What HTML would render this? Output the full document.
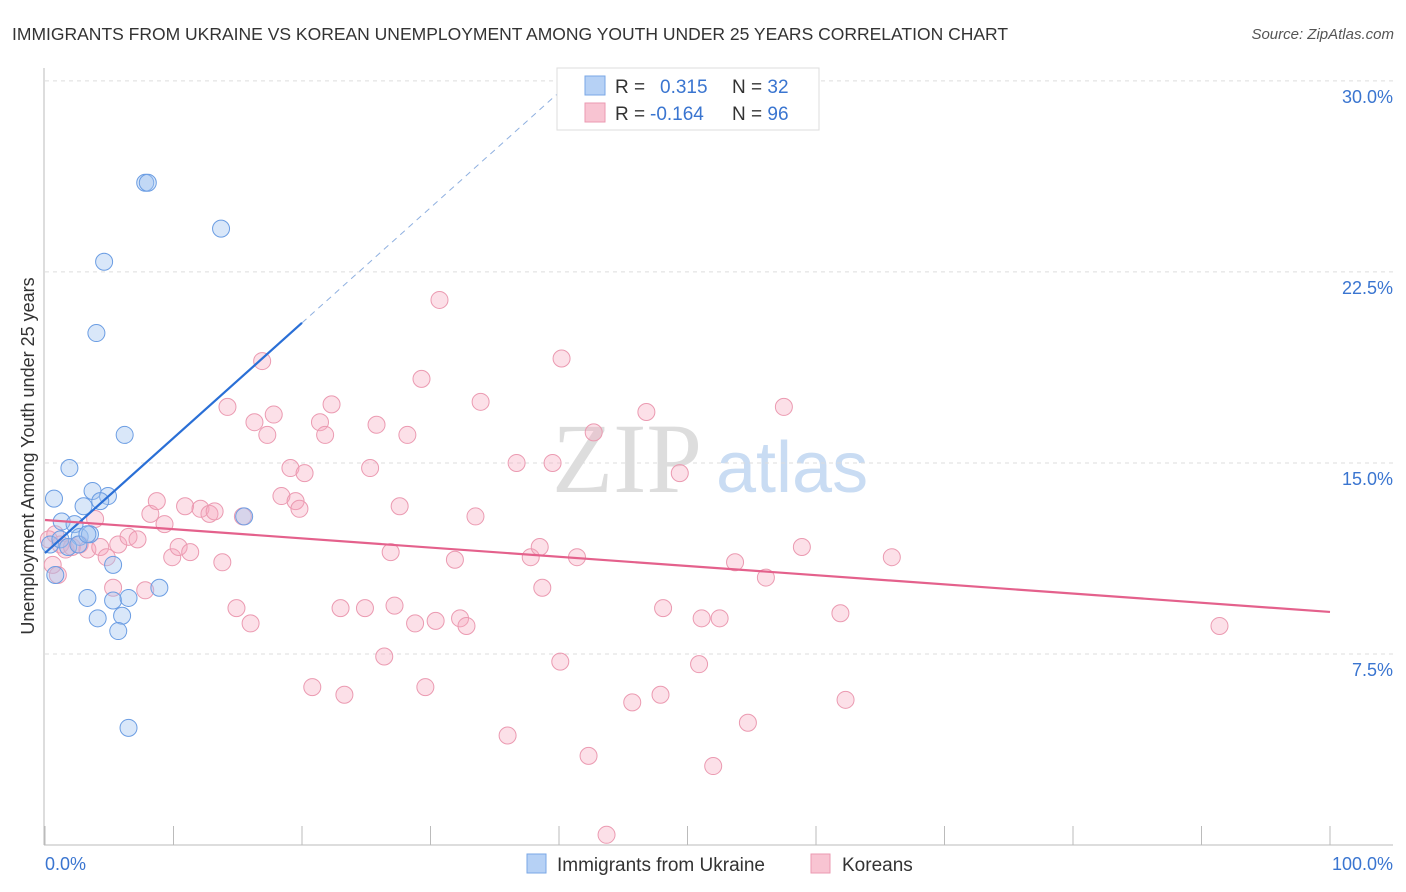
<!DOCTYPE html>
<html><head><meta charset="utf-8"><style>
body{margin:0;background:#fff;font-family:"Liberation Sans",sans-serif}
svg{display:block}
</style></head><body>
<svg id="c" width="1406" height="892">
<text x="12" y="40" font-size="17.5" fill="#333">IMMIGRANTS FROM UKRAINE VS KOREAN UNEMPLOYMENT AMONG YOUTH UNDER 25 YEARS CORRELATION CHART</text>
<text x="1394" y="39" font-size="15" fill="#555" font-style="italic" text-anchor="end">Source: ZipAtlas.com</text>
<text transform="translate(34,456) rotate(-90)" font-size="18" fill="#333" text-anchor="middle">Unemployment Among Youth under 25 years</text>
<g><text x="552" y="492" font-family="Liberation Serif" font-size="100" fill="#ddd">ZIP</text><text x="716" y="492" font-size="72" fill="#c9dcf3">atlas</text></g>
<g id="grid"></g><g id="axes"></g><g id="pts"></g><g id="trend"></g>
<g>
<rect x="557" y="68" width="262" height="62" fill="#fff" stroke="#ddd"/>
<rect x="585" y="76" width="20" height="19" fill="#b6d1f5" stroke="#7aa7e6"/>
<rect x="585" y="103" width="20" height="19" fill="#f8c4d2" stroke="#eb9ab1"/>
<text x="615" y="93" font-size="19" fill="#333">R = <tspan x="660" fill="#3a75d0">0.315</tspan><tspan x="732" fill="#333">N = </tspan><tspan fill="#3a75d0">32</tspan></text>
<text x="615" y="120" font-size="19" fill="#333">R = <tspan x="650" fill="#3a75d0">-0.164</tspan><tspan x="732" fill="#333">N = </tspan><tspan fill="#3a75d0">96</tspan></text>
</g>
<g>
<rect x="527" y="854" width="19" height="19" fill="#b6d1f5" stroke="#7aa7e6"/>
<text x="557" y="871" font-size="19" fill="#333">Immigrants from Ukraine</text>
<rect x="811" y="854" width="19" height="19" fill="#f8c4d2" stroke="#eb9ab1"/>
<text x="842" y="871" font-size="19" fill="#333">Koreans</text>
</g>
</svg>
<script>
const yTicks=[7.5,15,22.5,30];
const yTickLabels=["7.5%","15.0%","22.5%","30.0%"];
const xTicks=[0,10,20,30,40,50,60,70,80,90,100];
const blueX=[0.7,0.8,0.4,1.2,1.9,1.3,2.3,3.0,3.7,4.9,4.3,2.7,3.5,1.8,2.6,3.3,5.3,4.6,4.0,6.2,7.8,8.0,13.7,15.5,8.9,3.3,4.1,5.3,6.5,6.0,5.7,6.5];
const blueY=[13.6,10.6,11.8,12.0,14.8,12.7,12.6,13.3,13.9,13.7,13.5,12.1,12.2,11.7,11.8,12.2,11.0,22.9,20.1,16.1,26.0,26.0,24.2,12.9,10.1,9.7,8.9,9.6,9.7,9.0,8.4,4.6];
const pinkX=[0.3,0.8,1.2,1.0,1.6,2.1,2.7,3.3,3.9,4.3,4.8,5.3,5.7,6.5,7.2,7.8,8.2,8.7,9.3,9.9,10.4,11.3,10.9,12.1,12.8,13.2,13.8,14.2,14.9,15.4,16.0,16.3,16.9,17.3,17.8,18.4,19.1,19.5,19.8,20.2,20.8,21.4,21.8,22.3,23.0,23.3,24.9,25.3,25.8,26.4,26.9,27.2,27.6,28.2,28.8,29.3,29.6,30.4,30.7,31.9,32.3,32.8,33.5,33.9,36.0,36.7,37.8,38.5,38.7,39.5,40.1,40.2,41.4,42.3,42.7,43.7,45.7,46.8,47.9,48.1,49.4,50.9,51.1,52.0,52.5,53.7,54.7,56.1,57.5,58.4,58.9,61.9,62.3,65.9,91.4,0.6];
const pinkY=[12.0,12.2,11.8,10.6,11.6,11.7,11.8,11.6,12.8,11.7,11.3,10.1,11.8,12.1,12.0,10.0,13.0,13.5,12.6,11.3,11.7,11.5,13.3,13.2,13.0,13.1,11.1,17.2,9.3,12.9,8.7,16.6,19.0,16.1,16.9,13.7,14.8,13.5,13.2,14.6,6.2,16.6,16.1,17.3,9.3,5.9,9.3,14.8,16.5,7.4,11.5,9.4,13.3,16.1,8.7,18.3,6.2,8.8,21.4,11.2,8.9,8.6,12.9,17.4,4.3,15.0,11.3,11.7,10.1,15.0,7.2,19.1,11.3,3.5,16.2,0.4,5.6,17.0,5.9,9.3,14.6,7.1,8.9,3.1,8.9,11.1,4.8,10.5,17.2,28.9,11.7,9.1,5.7,11.3,8.6,11.0];
const blueTrendX=[0,20,41];
const blueTrendY=[11.46,20.5,30];
const pinkTrendX=[0,100];
const pinkTrendY=[12.76,9.15];
const NS="http://www.w3.org/2000/svg";
const X=v=>45+v*12.85, Y=v=>845-v*25.47;
function mk(t,a,p){const e=document.createElementNS(NS,t);for(const k in a)e.setAttribute(k,a[k]);document.getElementById(p).appendChild(e);return e;}
yTicks.forEach((t,i)=>{
 let l=mk('line',{x1:45,x2:1393,y1:Y(t),y2:Y(t),stroke:'#ddd','stroke-dasharray':'4,4'},'grid');
 
 
 let tx=mk('text',{x:1393,y:Y(t)+22,'font-size':18,fill:'#3a75d0','text-anchor':'end'},'grid');
 tx.textContent=yTickLabels[i];
 
 
});
let ax=mk('line',{x1:44,x2:44,y1:68,y2:845,stroke:'#bbb'},'axes');


let bx=mk('line',{x1:44,x2:1393,y1:845,y2:845,stroke:'#bbb'},'axes');


xTicks.forEach(t=>{
 let l=mk('line',{x1:X(t),x2:X(t),y1:826,y2:845,stroke:'#bbb'},'axes');
 
 
});
let x0=mk('text',{x:45,y:870,'font-size':18,fill:'#3a75d0'},'axes');x0.textContent='0.0%';


let x1=mk('text',{x:1393,y:870,'font-size':18,fill:'#3a75d0','text-anchor':'end'},'axes');x1.textContent='100.0%';


pinkX.forEach((v,i)=>{
 let c=mk('circle',{cx:X(v),cy:Y(pinkY[i]),r:8.5,fill:'rgba(245,165,190,0.35)',stroke:'#eb9ab1','stroke-width':1},'pts');
 
 
});
blueX.forEach((v,i)=>{
 let c=mk('circle',{cx:X(v),cy:Y(blueY[i]),r:8.5,fill:'rgba(160,195,240,0.4)',stroke:'#6b9de3','stroke-width':1},'pts');
 
 
});
let bt=mk('line',{x1:X(blueTrendX[0]),y1:Y(blueTrendY[0]),x2:X(blueTrendX[1]),y2:Y(blueTrendY[1]),stroke:'#2a6fd6','stroke-width':2.2},'trend');


let bd=mk('line',{x1:X(blueTrendX[1]),y1:Y(blueTrendY[1]),x2:X(blueTrendX[2]),y2:Y(blueTrendY[2]),stroke:'#8fb0e0','stroke-width':1,'stroke-dasharray':'6,5'},'trend');


let pt=mk('line',{x1:X(pinkTrendX[0]),y1:Y(pinkTrendY[0]),x2:X(pinkTrendX[1]),y2:Y(pinkTrendY[1]),stroke:'#e4618c','stroke-width':2.2},'trend');


</script>
</body></html>
